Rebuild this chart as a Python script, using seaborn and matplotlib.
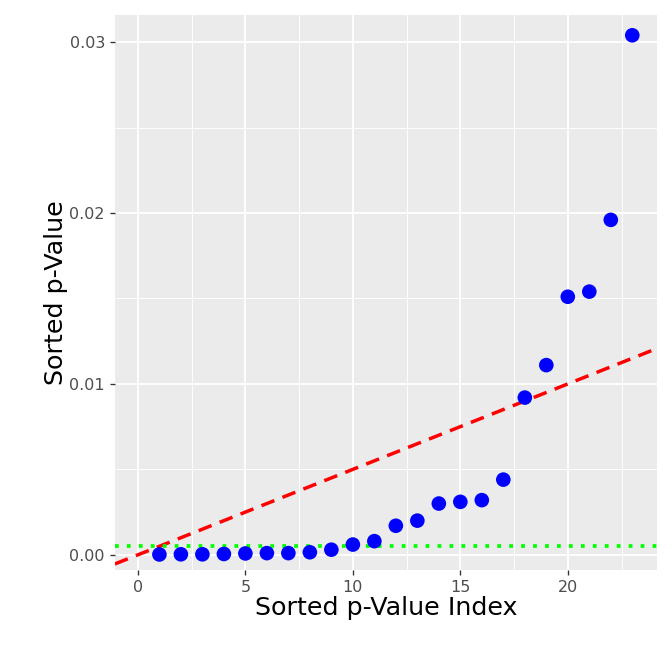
import numpy as np
import matplotlib
matplotlib.use('Agg')
import matplotlib.pyplot as plt
import seaborn as sns
import pandas as pd

# sorted p-values
idx = list(range(1, 24))
pvals = [0.00002, 0.00003, 0.00003, 0.00005, 0.00008, 0.0001, 0.0001, 0.00015,
         0.0003, 0.0006, 0.0008, 0.0017, 0.002, 0.003, 0.0031, 0.0032, 0.0044,
         0.0092, 0.0111, 0.0151, 0.0154, 0.0196, 0.0304]
bh_slope = 0.0005      # alpha / m style threshold line
bonf_level = 0.0005    # flat threshold

df = pd.DataFrame({'index': idx, 'p': pvals})

sns.set_style('darkgrid', {'axes.facecolor': '#EBEBEB', 'grid.color': 'white'})
plt.rcParams['font.family'] = ['DejaVu Sans']

fig = plt.figure(figsize=(7, 7), dpi=96)
ax = fig.add_axes([0.171, 0.152, 0.807, 0.826])

xlim = (-1.07, 24.16)
ylim = (-0.00088, 0.0316)

ax.set_xticks([0, 5, 10, 15, 20])
ax.set_xticks([2.5, 7.5, 12.5, 17.5, 22.5], minor=True)
ax.set_yticks([0, 0.01, 0.02, 0.03])
ax.set_yticks([0.005, 0.015, 0.025], minor=True)
ax.set_yticklabels(['0.00', '0.01', '0.02', '0.03'])
ax.grid(which='major', color='white', linewidth=1.4)
ax.grid(which='minor', color='white', linewidth=0.7)
ax.set_axisbelow(True)

xs = np.array(xlim)
ax.plot(xs, bh_slope * xs, color='red', linestyle=(0, (4, 2.5)), linewidth=2.6)
ax.axhline(bonf_level, color='#00FF00', linestyle=(0, (1, 2.2)), linewidth=2.8)
sns.scatterplot(data=df, x='index', y='p', ax=ax, color='blue', s=120,
                edgecolor='none', zorder=3)

ax.set_xlim(xlim)
ax.set_ylim(ylim)
ax.set_xlabel('Sorted p-Value Index', fontsize=19, labelpad=1, color='black')
ax.set_ylabel('Sorted p-Value', fontsize=19, labelpad=1, color='black')
ax.tick_params(axis='both', labelsize=12, colors='#4D4D4D', length=4,
               width=1, direction='out', which='major')
ax.tick_params(which='major', color='#333333', bottom=True, left=True)
ax.tick_params(which='minor', length=0)
for s in ax.spines.values():
    s.set_visible(False)

fig.savefig('out.png', dpi=96)
